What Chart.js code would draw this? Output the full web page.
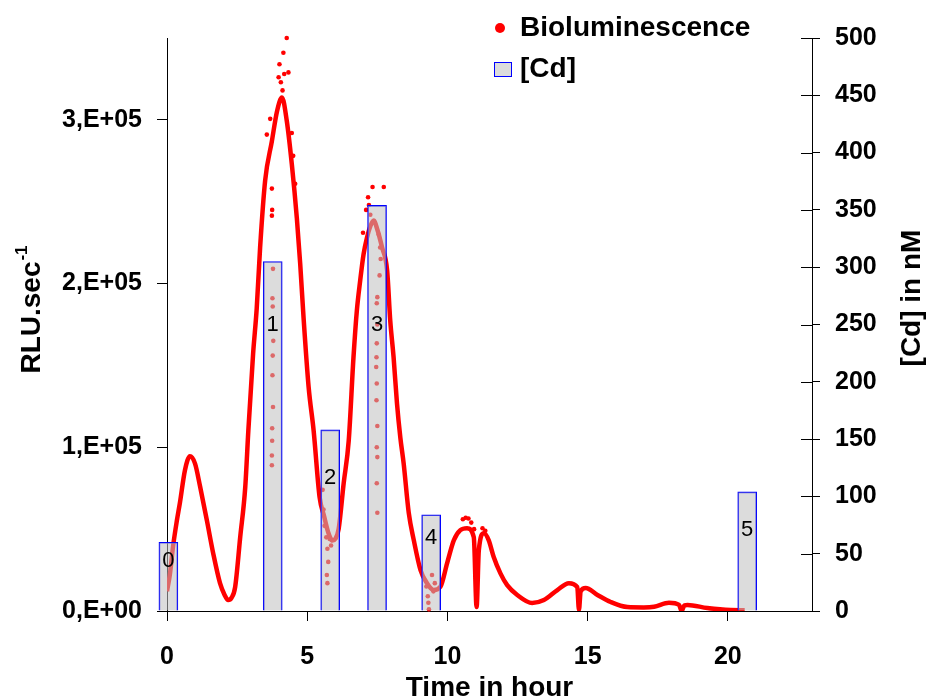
<!DOCTYPE html>
<html>
<head>
<meta charset="utf-8">
<script src="https://cdn.jsdelivr.net/npm/chart.js@4.4.0/dist/chart.umd.min.js"></script>
<style>
  body { margin: 0; background: #fff; }
  canvas { display: block; }
</style>
</head>
<body>
<canvas id="chart" width="927" height="699"></canvas>
<script>
// bioluminescence trace: time (h) and RLU/s
const bioTime = [0, 0.1, 0.22, 0.35, 0.46, 0.64, 0.82, 1.0, 1.18, 1.42, 1.65, 1.89, 2.05, 2.18, 2.3, 2.43,
  2.61, 2.79, 2.9, 3.07, 3.2, 3.32, 3.5, 3.74, 3.92, 4.1, 4.27, 4.45, 4.63, 4.75, 4.87, 5.05, 5.23, 5.44,
  5.6, 5.75, 5.9, 6.0, 6.12, 6.3, 6.48, 6.65, 6.77, 6.89, 7.01, 7.13, 7.25, 7.37, 7.5, 7.67, 7.85, 7.96,
  8.08, 8.2, 8.32, 8.44, 8.62, 8.8, 9.04, 9.27, 9.4, 9.51, 9.75, 9.99, 10.23, 10.46, 10.7, 10.94, 11.04,
  11.12, 11.3, 11.47, 11.65, 11.89, 12.13, 12.49, 13.02, 13.44, 13.92, 14.33, 14.63, 14.69, 14.75, 14.93,
  15.35, 15.82, 16.42, 17.0, 17.37, 17.9, 18.26, 18.35, 18.45, 18.56, 19.27, 20.1, 20.6];
const bioValue = [12000, 22000, 40000, 55000, 66000, 86000, 94500, 90000, 76000, 55500, 35000, 17000, 10000, 6700, 8000, 14600,
  45000, 75600, 110000, 157000, 185000, 222000, 263000, 287000, 305000, 313700, 299500, 273000, 240000, 212000, 179000, 136800, 110000, 69700,
  58000, 48000, 43000, 44000, 50000, 78000, 104000, 155000, 183500, 202000, 218000, 228000, 235000, 238500, 233000, 222000, 208000, 177500,
  155000, 127000, 106000, 90000, 60000, 43300, 25000, 17000, 14000, 12800, 14800, 29300, 43300, 49400, 50600, 45000, 2400,
  37200, 47500, 43300, 33000, 23000, 15800, 9800, 4900, 6700, 12800, 17000, 14600, 600, 12000, 14000,
  9800, 5500, 2400, 2200, 2600, 5000, 3700, 0, 3500, 3700, 1800, 600, 500];

// scattered single readings
const spotTime = [4.27, 4.15, 4.01, 3.98, 4.18, 4.33, 4.06, 3.68, 3.56, 3.74, 3.75, 3.74, 4.45, 4.5, 4.57, 4.12,
  3.78, 3.76, 3.77, 3.79, 3.77, 3.76, 3.78, 3.75, 3.75, 3.74, 3.74,
  7.33, 7.73, 7.17, 6.99, 7.1, 7.2, 7.25,
  7.55, 7.6, 7.62, 7.58, 7.5, 7.48, 7.5, 7.48, 7.47, 7.46, 7.48, 7.47, 7.5, 7.48, 7.5, 7.48, 7.5,
  5.55, 5.58, 5.62, 5.68, 5.72, 5.75, 5.7, 5.72, 5.85, 5.8,
  9.25, 9.3, 9.32, 9.34, 9.5, 9.55, 9.45,
  10.55, 10.65, 10.75, 10.85, 10.95, 11.0, 11.02, 11.25, 11.35];
const spotValue = [350000, 341000, 334000, 326000, 328000, 329000, 323000, 300600, 291000, 258000, 245000, 241500, 292000, 278000, 261000, 318000,
  209000, 191000, 186000, 165000, 156000, 144000, 124600, 111600, 104000, 95000, 89000,
  259000, 259000, 252700, 231000, 245000, 248000, 242000,
  230000, 222000, 215000, 205000, 191700, 188000, 175000, 163500, 155000, 149000, 139000, 128700, 113000, 100000, 94000, 78000, 60000,
  74000, 62000, 52000, 45000, 38000, 30000, 22000, 17000, 40000, 44000,
  15000, 9000, 5000, 1000, 12000, 17000, 22000,
  56000, 57000, 56500, 54000, 50000, 35000, 20000, 50500, 49000];

// Cd additions: time (h), concentration (nM), bar number, where the number sits (nM)
const cdTime = [0.05, 3.77, 5.82, 7.49, 9.42, 20.69];
const cdValue = [60, 305, 158, 354, 84, 104];
const cdNames = ['0', '1', '2', '3', '4', '5'];
const cdNameAt = [44, 250, 116, 250, 64, 71];

// axis ticks
const timeTicks = [0, 5, 10, 15, 20];
const rluTicks = [0, 100000, 200000, 300000];
const cdTicks = [0, 50, 100, 150, 200, 250, 300, 350, 400, 450, 500];

const FONT = "'Liberation Sans', Arial, sans-serif";

const sciLabel = (v) => {
  const [m, e] = Number(v).toExponential(0).split('e');
  return m + ',E' + e[0] + e.slice(1).padStart(2, '0');
};

const setTicks = (list) => (axis) => { axis.ticks = list.map(v => ({ value: v })); };

const extras = {
  id: 'extras',
  afterDraw(chart) {
    const ctx = chart.ctx;
    const area = chart.chartArea;
    const y2 = chart.scales.y2;
    ctx.save();

    // right axis ticks cross the axis line
    ctx.strokeStyle = '#000';
    ctx.lineWidth = 1;
    y2.ticks.forEach(t => {
      const py = Math.round(y2.getPixelForValue(t.value)) + 0.5;
      ctx.beginPath();
      ctx.moveTo(area.right - 11, py);
      ctx.lineTo(area.right, py);
      ctx.stroke();
    });

    // numbers in the bars
    const bars = chart.getDatasetMeta(0).data;
    ctx.fillStyle = '#000';
    ctx.font = '22px ' + FONT;
    ctx.textAlign = 'center';
    ctx.textBaseline = 'middle';
    cdNames.forEach((n, i) => {
      ctx.fillText(n, bars[i].x, y2.getPixelForValue(cdNameAt[i]));
    });

    // legend
    ctx.fillStyle = '#ff0000';
    ctx.beginPath();
    ctx.arc(500, 28, 5, 0, Math.PI * 2);
    ctx.fill();
    ctx.fillStyle = 'rgba(191,191,191,0.55)';
    ctx.fillRect(494, 62, 18, 15);
    ctx.strokeStyle = '#0000ff';
    ctx.strokeRect(494.5, 62.5, 17, 14);
    ctx.fillStyle = '#000';
    ctx.font = 'bold 28px ' + FONT;
    ctx.textAlign = 'left';
    ctx.fillText('Bioluminescence', 520, 28);
    ctx.fillText('[Cd]', 520, 69);

    // left axis title with superscript
    ctx.save();
    ctx.translate(32, 310);
    ctx.rotate(-Math.PI / 2);
    const main = 'RLU.sec';
    const sup = '-1';
    ctx.font = 'bold 28px ' + FONT;
    const w1 = ctx.measureText(main).width;
    ctx.font = 'bold 17px ' + FONT;
    const w2 = ctx.measureText(sup).width;
    const start = -(w1 + w2) / 2;
    ctx.font = 'bold 28px ' + FONT;
    ctx.fillText(main, start, 0);
    ctx.font = 'bold 17px ' + FONT;
    ctx.fillText(sup, start + w1 + 1, -10);
    ctx.restore();

    // right axis title
    ctx.save();
    ctx.translate(912, 298);
    ctx.rotate(-Math.PI / 2);
    ctx.font = 'bold 28px ' + FONT;
    ctx.textAlign = 'center';
    ctx.fillText('[Cd] in nM', 0, 0);
    ctx.restore();

    ctx.restore();
  }
};

new Chart(document.getElementById('chart'), {
  type: 'line',
  data: {
    datasets: [{
      type: 'bar',
      label: '[Cd]',
      data: cdTime.map((t, i) => ({ x: t, y: cdValue[i] })),
      yAxisID: 'y2',
      backgroundColor: 'rgba(191,191,191,0.55)',
      borderColor: '#0000ff',
      borderWidth: 1,
      barThickness: 19,
      clip: false,
      order: 0
    }, {
      type: 'scatter',
      label: 'spots',
      data: spotTime.map((t, i) => ({ x: t, y: spotValue[i] })),
      yAxisID: 'y',
      pointRadius: 2.3,
      pointBackgroundColor: '#ff0000',
      pointBorderWidth: 0,
      showLine: false,
      clip: false,
      order: 1
    }, {
      type: 'line',
      label: 'Bioluminescence',
      data: bioTime.map((t, i) => ({ x: t, y: bioValue[i] })),
      yAxisID: 'y',
      borderColor: '#ff0000',
      borderWidth: 4.5,
      pointRadius: 0,
      cubicInterpolationMode: 'monotone',
      order: 2
    }]
  },
  options: {
    responsive: false,
    animation: false,
    devicePixelRatio: 1,
    layout: { padding: { top: 38, left: 0, right: 0, bottom: 0 } },
    plugins: {
      legend: { display: false },
      tooltip: { enabled: false }
    },
    scales: {
      x: {
        type: 'linear',
        min: 0,
        max: 23,
        offset: false,
        afterBuildTicks: setTicks(timeTicks),
        afterFit: (axis) => { axis.height = 88; },
        border: { display: true, color: '#000', width: 1 },
        grid: { display: true, offset: false, drawOnChartArea: false, color: '#000', tickLength: 10 },
        ticks: {
          padding: 21,
          color: '#000',
          font: { family: FONT, size: 25, weight: 'bold' }
        },
        title: {
          display: true,
          text: 'Time in hour',
          color: '#000',
          padding: { top: 0, bottom: -6 },
          font: { family: FONT, size: 28, weight: 'bold' }
        }
      },
      y: {
        position: 'left',
        min: 0,
        max: 350000,
        afterBuildTicks: setTicks(rluTicks),
        afterFit: (axis) => { axis.width = 167; },
        border: { display: true, color: '#000', width: 1 },
        grid: { display: true, drawOnChartArea: false, color: '#000', tickLength: 10 },
        ticks: {
          padding: 15,
          color: '#000',
          font: { family: FONT, size: 25, weight: 'bold' },
          callback: (v) => sciLabel(v)
        }
      },
      y2: {
        position: 'right',
        min: 0,
        max: 500,
        afterBuildTicks: setTicks(cdTicks),
        afterFit: (axis) => { axis.width = 115; },
        border: { display: true, color: '#000', width: 1 },
        grid: { display: true, drawOnChartArea: false, color: '#000', tickLength: 8 },
        ticks: {
          padding: 15,
          color: '#000',
          font: { family: FONT, size: 25, weight: 'bold' }
        }
      }
    }
  },
  plugins: [extras]
});
</script>
</body>
</html>
